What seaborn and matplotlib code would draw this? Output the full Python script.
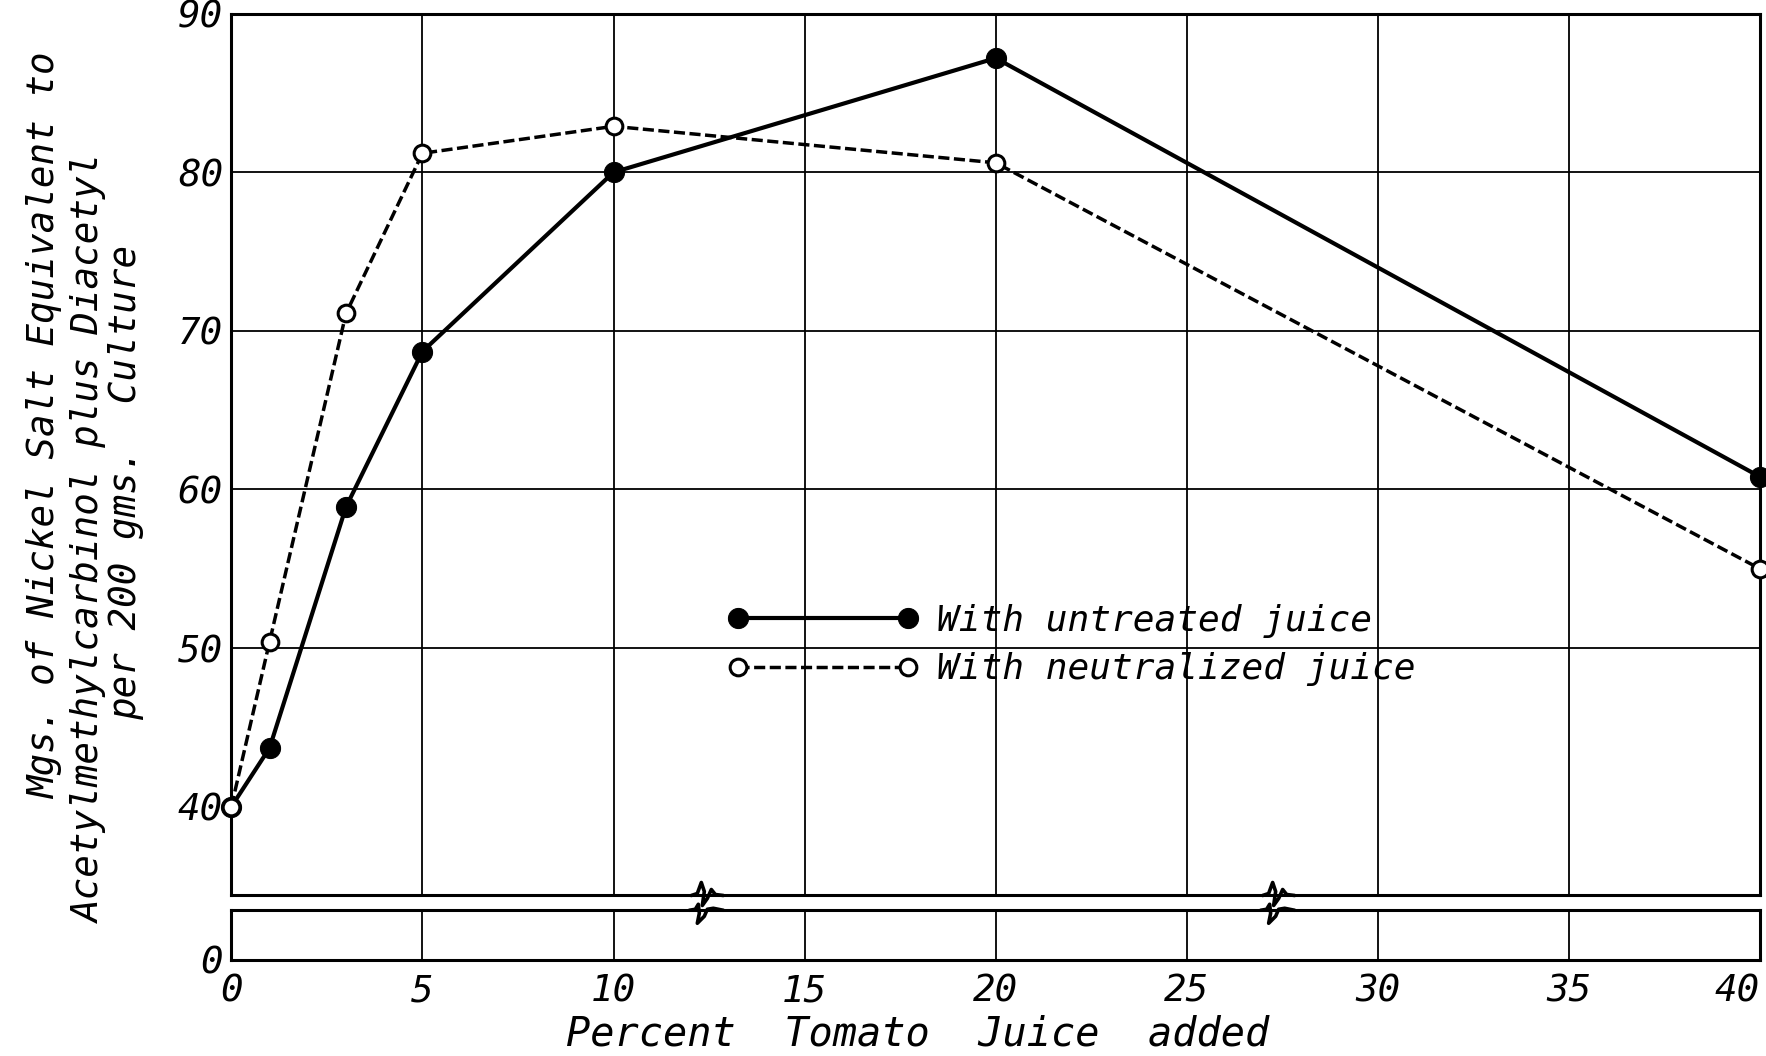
import numpy as np
import pandas as pd
import matplotlib
matplotlib.use("Agg")
import matplotlib.pyplot as plt
import seaborn as sns
from matplotlib.lines import Line2D
from matplotlib.transforms import IdentityTransform

# Data
percent_juice = [0, 1, 3, 5, 10, 20, 40]
untreated = [40.0, 43.7, 58.9, 68.7, 80.0, 87.2, 60.8]
neutralized = [40.0, 50.4, 71.1, 81.2, 82.9, 80.6, 55.0]

x_ticks = [0, 5, 10, 15, 20, 25, 30, 35, 40]
y_ticks = [40, 50, 60, 70, 80, 90]
break_at = [12.35, 27.3]

ylabel_lines = [
    "Mgs. of Nickel Salt Equivalent to",
    "Acetylmethylcarbinol plus Diacetyl",
    "per 200 gms.  Culture",
]

df = pd.DataFrame({
    "pct": percent_juice * 2,
    "value": untreated + neutralized,
    "series": ["With untreated juice"] * 7 + ["With neutralized juice"] * 7,
})

sns.set_style("white")
plt.rcParams["font.family"] = ["DejaVu Sans Mono", "DejaVu Sans"]
plt.rcParams["font.style"] = "italic"
for k in ("text.color", "axes.labelcolor", "xtick.color", "ytick.color"):
    plt.rcParams[k] = "black"

W, H = 1766, 1056
fig = plt.figure(figsize=(W / 100, H / 100), dpi=100)
ax = fig.add_axes([0.131, 0.152, 0.8656, 0.835])
ax0 = fig.add_axes([0.131, 0.091, 0.8656, 0.047])

for a in (ax, ax0):
    for s in a.spines.values():
        s.set_linewidth(2.2)
        s.set_color("black")
    a.set_xlim(0, 40)
    a.set_xticks(x_ticks)
    a.tick_params(length=0)
    for xv in x_ticks[1:-1]:
        a.axvline(xv, color="black", lw=1.3, zorder=0)

ax.set_ylim(34.4, 90)
ax.set_yticks(y_ticks)
ax.set_yticklabels([str(v) for v in y_ticks], fontsize=27)
ax.tick_params(axis="y", pad=6)
ax.set_xticklabels([])
for yv in y_ticks[1:-1]:
    ax.axhline(yv, color="black", lw=1.3, zorder=0)

ax0.set_ylim(0, 3.4)
ax0.set_yticks([0])
ax0.set_yticklabels(["0"], fontsize=27)
ax0.tick_params(axis="y", pad=6)
ax0.set_xticklabels([str(v) for v in x_ticks], fontsize=27)
ax0.tick_params(axis="x", pad=10)
ax0.get_xticklabels()[-1].set_horizontalalignment("right")
ax0.set_xlabel("Percent  Tomato  Juice  added", fontsize=29)
ax0.xaxis.set_label_coords(0.449, -1.1)

sub_u = df[df["series"] == "With untreated juice"]
sub_n = df[df["series"] == "With neutralized juice"]
sns.lineplot(data=sub_u, x="pct", y="value", ax=ax, color="black", lw=3,
             marker="o", markersize=14.5, markerfacecolor="black",
             markeredgecolor="black", label="With untreated juice",
             clip_on=False, zorder=3)
sns.lineplot(data=sub_n, x="pct", y="value", ax=ax, color="black", lw=2.5,
             dashes=(3.2, 1.3), marker="o", markersize=12,
             markerfacecolor="white", markeredgecolor="black",
             markeredgewidth=2.2, label="With neutralized juice",
             clip_on=False, zorder=3)
ax.set_xlabel("")
ax.set_ylabel("")

ax.legend(loc="upper left", bbox_to_anchor=(0.412, 0.428),
          bbox_transform=fig.transFigure, frameon=False, fontsize=26,
          numpoints=2, handlelength=5.3, handletextpad=0.5,
          labelspacing=0.4, borderpad=0, borderaxespad=0)

# y label, three hand-lettered lines
fig.text(45 / W, 1 - 426 / H, ylabel_lines[0], rotation=90, fontsize=27,
         ha="center", va="center")
fig.text(90 / W, 1 - 538 / H, ylabel_lines[1], rotation=90, fontsize=27,
         ha="center", va="center")
fig.text(126 / W, 1 - 482 / H, ylabel_lines[2], rotation=90, fontsize=27,
         ha="center", va="center")

# axis break squiggles (pixel offsets, y up)
squig_top = np.array([[-12, 0], [-6, 2], [-2, 13], [1, 4], [-1, -10], [4, -3],
                      [8, 6], [12, 1], [20, 0]])
squig_bot = np.array([[-14, 0], [-8, 1], [-5, 6], [-4, -3], [-6, -13], [1, -6],
                      [4, 1], [10, 2], [20, 0]])
for bx in break_at:
    for a, yv, sq in ((ax, 34.4, squig_top), (ax0, 3.4, squig_bot)):
        px, py = a.transData.transform((bx, yv))
        pts = sq + [px, py]
        fig.add_artist(Line2D(pts[:, 0], pts[:, 1], transform=IdentityTransform(),
                              color="black", lw=2.6, solid_joinstyle="round"))

fig.savefig("out.png", dpi=100)
